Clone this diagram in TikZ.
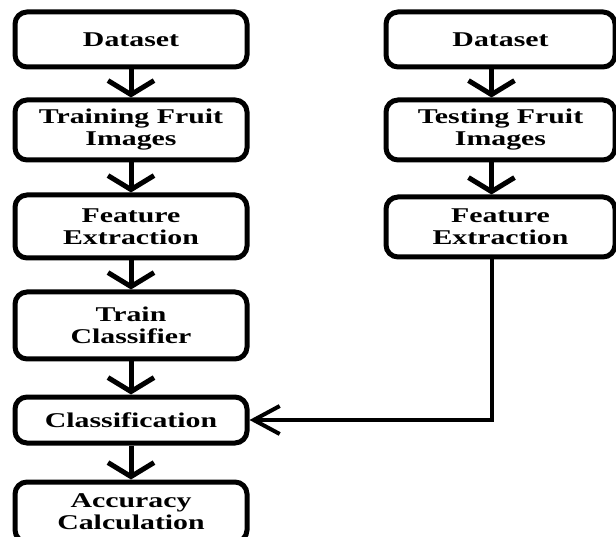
\documentclass[tikz,border=0pt]{standalone}
\usepackage{fontspec}
\setmainfont{Liberation Serif}[
  BoldFont={Liberation Serif Bold},
  FakeStretch=1.42]
\usetikzlibrary{arrows.meta}

\tikzset{
  stage/.style={draw=black, line width=5pt, rounded corners=12pt, align=center,
    font=\bfseries\fontsize{21}{22}\selectfont, minimum width=232pt, inner sep=0pt},
  flow/.style={line width=5pt, -{Straight Barb[length=14pt,width=46pt]}},
  side/.style={line width=4pt, -{Straight Barb[length=26pt,width=28pt]}}
}

\begin{document}
\begin{tikzpicture}[x=1pt,y=-1pt]

\useasboundingbox (0,0) rectangle (616,537);

% training side
\node[stage, minimum height=55pt] (dsl) at (131,39.5) {Dataset};
\node[stage, minimum height=60pt] (trn) at (131,130) {Training Fruit\\Images};
\node[stage, minimum height=63pt] (fel) at (131,226.5) {Feature\\Extraction};
\node[stage, minimum height=67pt] (tcl) at (131,325.5) {Train\\Classifier};
\node[stage, minimum height=46pt] (cls) at (131,420) {Classification};
\node[stage, minimum height=60pt] (acc) at (131,512) {Accuracy\\Calculation};

% testing side
\node[stage, minimum width=229pt, minimum height=55pt] (dsr) at (500.5,39.5) {Dataset};
\node[stage, minimum width=229pt, minimum height=60pt] (tst) at (500.5,130) {Testing Fruit\\Images};
\node[stage, minimum width=229pt, minimum height=60pt] (fer) at (500.5,227) {Feature\\Extraction};

\draw[flow] (dsl) -- (trn);
\draw[flow] (trn) -- (fel);
\draw[flow] (fel) -- (tcl);
\draw[flow] (tcl) -- (cls);
\draw[flow] (cls) -- (acc);

\draw[flow] ([xshift=-9pt]dsr.south) -- ([xshift=-9pt]tst.north);
\draw[flow] ([xshift=-9pt]tst.south) -- ([xshift=-9pt]fer.north);
\draw[side] ([xshift=-9pt]fer.south) |- (cls.east);

\end{tikzpicture}
\end{document}
